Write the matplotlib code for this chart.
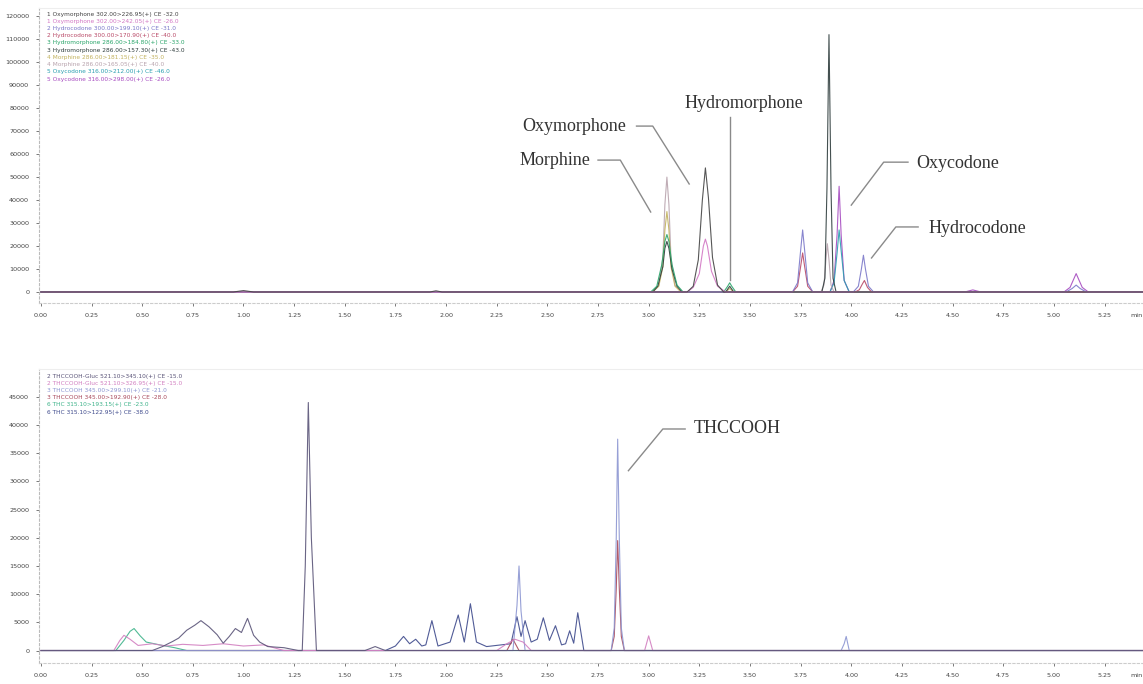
import numpy as np
import matplotlib
matplotlib.use("Agg")
import matplotlib.pyplot as plt

# ---- top panel: opioid MRM traces (time in min, intensity) ----
top_labels = [
    "1 Oxymorphone 302.00>226.95(+) CE -32.0",
    "1 Oxymorphone 302.00>242.05(+) CE -26.0",
    "2 Hydrocodone 300.00>199.10(+) CE -31.0",
    "2 Hydrocodone 300.00>170.90(+) CE -40.0",
    "3 Hydromorphone 286.00>184.80(+) CE -33.0",
    "3 Hydromorphone 286.00>157.30(+) CE -43.0",
    "4 Morphine 286.00>181.15(+) CE -35.0",
    "4 Morphine 286.00>165.05(+) CE -40.0",
    "5 Oxycodone 316.00>212.00(+) CE -46.0",
    "5 Oxycodone 316.00>298.00(+) CE -26.0",
]
top_colors = ["#444444", "#d277c4", "#7b78c9", "#b94a68", "#2aa56a",
              "#2f3d3d", "#c2b25e", "#b8a3ad", "#2a9fb0", "#a64bc0"]

ox1_t = [0, 0.95, 1.0, 1.05, 1.92, 1.95, 1.98, 3.19, 3.22, 3.245, 3.265, 3.28,
         3.295, 3.315, 3.34, 3.37, 5.44]
ox1_y = [0, 0, 600, 0, 0, 500, 0, 0, 2500, 14000, 40000, 54000,
         41000, 15000, 3000, 0, 0]
ox2_t = [0, 3.19, 3.22, 3.25, 3.27, 3.28, 3.29, 3.31, 3.34, 3.38, 5.44]
ox2_y = [0, 0, 2000, 8000, 20000, 23000, 20000, 9000, 2500, 0, 0]
hc1_t = [0, 3.71, 3.735, 3.75, 3.76, 3.77, 3.785, 3.81,
         4.01, 4.035, 4.05, 4.06, 4.07, 4.085, 4.11,
         5.06, 5.09, 5.11, 5.13, 5.16, 5.44]
hc1_y = [0, 0, 4000, 18000, 27000, 18000, 4000, 0,
         0, 2500, 10000, 16000, 10000, 2500, 0,
         0, 1500, 3000, 1500, 0, 0]
hc2_t = [0, 3.71, 3.735, 3.75, 3.76, 3.77, 3.785, 3.81,
         4.02, 4.04, 4.055, 4.065, 4.08, 4.10, 5.44]
hc2_y = [0, 0, 2500, 11000, 17000, 11000, 2500, 0,
         0, 1000, 3500, 5000, 2000, 0, 0]
hm1_t = [0, 3.01, 3.04, 3.065, 3.08, 3.09, 3.10, 3.115, 3.14, 3.17,
         3.37, 3.39, 3.40, 3.41, 3.43, 5.44]
hm1_y = [0, 0, 2500, 12000, 22000, 25000, 22000, 12000, 3000, 0,
         0, 2500, 4000, 2500, 0, 0]
hm2_t = [0, 3.02, 3.045, 3.07, 3.08, 3.09, 3.10, 3.115, 3.14, 3.165,
         3.38, 3.40, 3.42, 3.855, 3.87, 3.88, 3.89, 3.90, 3.91, 3.925, 5.44]
hm2_y = [0, 0, 2500, 11000, 19000, 22000, 19000, 10000, 2500, 0,
         0, 2500, 0, 0, 6000, 45000, 112000, 45000, 6000, 0, 0]
mo1_t = [0, 3.02, 3.05, 3.07, 3.08, 3.09, 3.10, 3.11, 3.13, 3.16,
         3.38, 3.40, 3.42, 5.44]
mo1_y = [0, 0, 2500, 11000, 27000, 35000, 27000, 11000, 2500, 0,
         0, 1500, 0, 0]
mo2_t = [0, 3.02, 3.05, 3.07, 3.08, 3.09, 3.10, 3.11, 3.13, 3.16,
         3.85, 3.865, 3.875, 3.882, 3.89, 3.90, 3.915, 5.44]
mo2_y = [0, 0, 3000, 15000, 38000, 50000, 38000, 15000, 3000, 0,
         0, 3000, 14000, 21000, 14000, 3000, 0, 0]
oc1_t = [0, 3.895, 3.915, 3.93, 3.94, 3.95, 3.965, 3.99, 5.44]
oc1_y = [0, 0, 4000, 17000, 27000, 18000, 5000, 0, 0]
oc2_t = [0, 3.895, 3.915, 3.93, 3.94, 3.95, 3.965, 3.99,
         4.56, 4.60, 4.64, 5.05, 5.08, 5.10, 5.11, 5.12, 5.14, 5.17, 5.44]
oc2_y = [0, 0, 5000, 25000, 46000, 25000, 5000, 0,
         0, 900, 0, 0, 2000, 6000, 8000, 6000, 2000, 0, 0]

top_traces = [(ox1_t, ox1_y), (ox2_t, ox2_y), (hc1_t, hc1_y), (hc2_t, hc2_y),
              (hm1_t, hm1_y), (hm2_t, hm2_y), (mo1_t, mo1_y), (mo2_t, mo2_y),
              (oc1_t, oc1_y), (oc2_t, oc2_y)]

# ---- bottom panel: cannabinoid MRM traces ----
bot_labels = [
    "2 THCCOOH-Gluc 521.10>345.10(+) CE -15.0",
    "2 THCCOOH-Gluc 521.10>326.95(+) CE -15.0",
    "3 THCCOOH 345.00>299.10(+) CE -21.0",
    "3 THCCOOH 345.00>192.90(+) CE -28.0",
    "6 THC 315.10>193.15(+) CE -23.0",
    "6 THC 315.10>122.95(+) CE -38.0",
]
bot_colors = ["#5a5478", "#d27fc0", "#8c96d2", "#a8485a", "#3eb38a", "#3e4a8c"]

gl1_t = [0, 0.55, 0.60, 0.65, 0.68, 0.72, 0.76, 0.79, 0.83, 0.87, 0.90, 0.93,
         0.96, 0.99, 1.02, 1.05, 1.08, 1.12, 1.20, 1.27, 1.29, 1.305, 1.32,
         1.335, 1.36, 1.40, 1.60, 1.65, 1.70, 5.44]
gl1_y = [0, 0, 700, 1600, 2200, 3600, 4500, 5300, 4200, 2800, 1300, 2500,
         3900, 3200, 5700, 2700, 1500, 700, 500, 0, 0, 15000, 44000,
         20000, 0, 0, 0, 700, 0, 0]
gl2_t = [0, 0.36, 0.39, 0.41, 0.44, 0.48, 0.55, 0.62, 0.70, 0.80, 0.90, 1.00,
         1.10, 1.20, 2.25, 2.30, 2.34, 2.38, 2.42, 2.98, 3.00, 3.02, 5.44]
gl2_y = [0, 0, 1800, 2700, 2000, 900, 1200, 800, 1100, 900, 1200, 800,
         1000, 0, 0, 1200, 2000, 1500, 0, 0, 2600, 0, 0]
tc1_t = [0, 2.33, 2.35, 2.36, 2.37, 2.39, 2.815, 2.83, 2.84, 2.847, 2.855, 2.865, 2.88,
         3.95, 3.965, 3.975, 3.99, 5.44]
tc1_y = [0, 0, 8000, 15000, 7000, 0, 0, 4000, 20000, 37500, 20000, 4000, 0,
         0, 1200, 2500, 0, 0]
tc2_t = [0, 2.30, 2.33, 2.36, 2.815, 2.83, 2.84, 2.847, 2.855, 2.865, 2.88, 5.44]
tc2_y = [0, 0, 2000, 0, 0, 2500, 11000, 19500, 11000, 2500, 0, 0]
th1_t = [0, 0.37, 0.41, 0.44, 0.46, 0.49, 0.52, 0.56, 0.60, 0.66, 0.72, 5.44]
th1_y = [0, 0, 1800, 3400, 3900, 2600, 1500, 1200, 900, 500, 0, 0]
th2_t = [0, 1.70, 1.75, 1.79, 1.82, 1.85, 1.88, 1.90, 1.93, 1.96, 2.02,
         2.06, 2.09, 2.12, 2.15, 2.20, 2.32, 2.35, 2.37, 2.39, 2.42, 2.45,
         2.48, 2.51, 2.54, 2.57, 2.59, 2.61, 2.63, 2.65, 2.68, 2.75, 5.44]
th2_y = [0, 0, 800, 2500, 1200, 2000, 800, 1000, 5300, 800, 1500,
         6300, 1500, 8300, 1500, 700, 1200, 6000, 2500, 5300, 1500, 2000,
         5800, 1800, 4400, 1000, 1200, 3500, 1300, 6700, 0, 0, 0]

bot_traces = [(gl1_t, gl1_y), (gl2_t, gl2_y), (tc1_t, tc1_y), (tc2_t, tc2_y),
              (th1_t, th1_y), (th2_t, th2_y)]

xticks = [0.00, 0.25, 0.50, 0.75, 1.00, 1.25, 1.50, 1.75, 2.00, 2.25, 2.50,
          2.75, 3.00, 3.25, 3.50, 3.75, 4.00, 4.25, 4.50, 4.75, 5.00, 5.25]
top_yticks = [0, 10000, 20000, 30000, 40000, 50000, 60000, 70000, 80000,
              90000, 100000, 110000, 120000]
bot_yticks = [0, 5000, 10000, 15000, 20000, 25000, 30000, 35000, 40000, 45000]

# annotation labels: (text, text position, alignment, leader line vertices)
top_notes = [
    ("Morphine", (2.71, 57400), "right", [(2.75, 2.86, 3.01), (57400, 57400, 34800)]),
    ("Oxymorphone", (2.89, 72200), "right", [(2.94, 3.02, 3.20), (72200, 72200, 47000)]),
    ("Hydromorphone", (3.47, 82200), "center", [(3.40, 3.40), (76100, 5200)]),
    ("Oxycodone", (4.32, 55700), "left", [(4.28, 4.16, 4.00), (56500, 56500, 37800)]),
    ("Hydrocodone", (4.38, 27800), "left", [(4.33, 4.22, 4.10), (28300, 28300, 14800)]),
]
bot_notes = [
    ("THCCOOH", (3.22, 39300), "left", [(3.18, 3.07, 2.90), (39300, 39300, 31900)]),
]

fig = plt.figure(figsize=(11.43, 6.84), dpi=100)
ax1 = fig.add_axes([0.034, 0.557, 0.966, 0.431])
ax2 = fig.add_axes([0.034, 0.030, 0.966, 0.431])


def style(ax, yticks, ylim, traces, colors, labels, notes, leg_y, leg_step):
    # draw last series first so the dark first trace sits on the baseline
    for (t, y), c in reversed(list(zip(traces, colors))):
        ax.plot(t, y, color=c, lw=0.8, alpha=0.9)
    ax.set_xlim(-0.01, 5.44)
    ax.set_ylim(*ylim)
    ax.set_xticks(xticks)
    ax.set_xticklabels(["%.2f" % v for v in xticks])
    ax.set_yticks(yticks)
    ax.set_yticklabels([str(v) for v in yticks])
    ax.tick_params(labelsize=4.6, colors="#444444", length=2, width=0.5, pad=5)
    ax.spines["right"].set_visible(False)
    ax.spines["top"].set_color("#eeeeee")
    ax.spines["left"].set_color("#bbbbbb")
    ax.spines["left"].set_linestyle((0, (2, 2)))
    ax.spines["bottom"].set_color("#cccccc")
    ax.spines["bottom"].set_linestyle((0, (2, 2)))
    ax.text(1.0, -0.033, "min", transform=ax.transAxes, fontsize=4.6,
            color="#444444", ha="right", va="top")
    for i, (lab, c) in enumerate(zip(labels, colors)):
        ax.text(0.007, leg_y - i * leg_step, lab, transform=ax.transAxes,
                fontsize=4.2, color=c, va="center")
    for txt, pos, ha, (lx, ly) in notes:
        ax.plot(lx, ly, color="#8a8a8a", lw=1.0)
        ax.text(pos[0], pos[1], txt, ha=ha, va="center", fontsize=13,
                family="Liberation Serif", color="#333333")


style(ax1, top_yticks, (-4800, 123500), top_traces, top_colors, top_labels,
      top_notes, 0.98, 0.0245)
style(ax2, bot_yticks, (-2300, 50000), bot_traces, bot_colors, bot_labels,
      bot_notes, 0.975, 0.0245)

fig.savefig("out.png", dpi=100, facecolor="white")
